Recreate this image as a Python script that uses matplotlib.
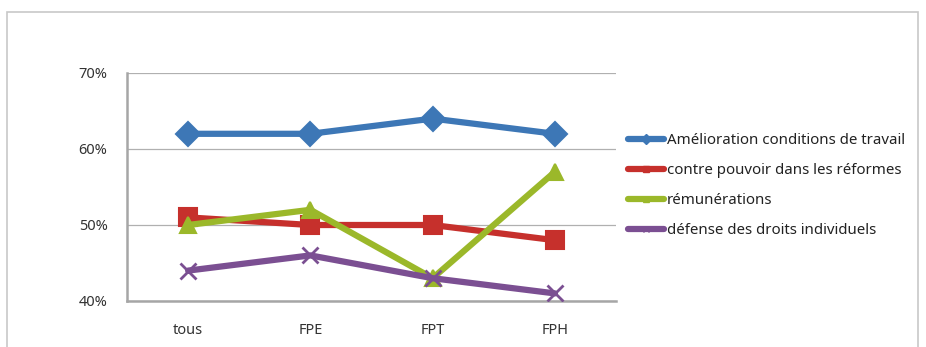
import matplotlib
matplotlib.use("Agg")
import matplotlib.pyplot as plt
from matplotlib.patches import Rectangle
from matplotlib.lines import Line2D

categories = ["tous", "FPE", "FPT", "FPH"]
amelioration = [62, 62, 64, 62]
contre_pouvoir = [51, 50, 50, 48]
remunerations = [50, 52, 43, 57]
defense = [44, 46, 43, 41]
labels = ["Amélioration conditions de travail", "contre pouvoir dans les réformes",
          "rémunérations", "défense des droits individuels"]
yticks = [40, 50, 60, 70]

plt.rcParams['font.family'] = ['Noto Sans', 'DejaVu Sans']

fig = plt.figure(figsize=(9.26, 3.47), dpi=100)
fig.patch.set_facecolor("white")
fig.patches.append(Rectangle((7/926, -0.1), 911/926, 1.1 - 12/347, transform=fig.transFigure,
                             fill=False, edgecolor="#c8c8c8", linewidth=1.2))

ax = fig.add_axes([127/926, 1 - 301/347, 489/926, 228/347])
x = range(len(categories))
series = [
    (amelioration, "#3d77b6", "D", 12),
    (contre_pouvoir, "#c6302c", "s", 13),
    (remunerations, "#9bb82a", "^", 12),
    (defense, "#7b4f92", "x", 12),
]
handles = []
for (vals, col, mk, ms), lab in zip(series, labels):
    ax.plot(x, vals, color=col, linewidth=4.5, marker=mk, markersize=ms,
            markeredgewidth=1.5 if mk != "x" else 2, markerfacecolor=col,
            markeredgecolor=col, solid_capstyle="round", zorder=3)
    handles.append(Line2D([], [], color=col, linewidth=4.5, marker=mk, markersize=5,
                          markerfacecolor=col, markeredgecolor=col, solid_capstyle="round"))

ax.set_xlim(-0.5, 3.5)
ax.set_ylim(40, 70)
ax.set_yticks(yticks)
ax.set_yticklabels([f"{v}%" for v in yticks])
ax.set_xticks(list(x))
ax.set_xticklabels(categories)
ax.tick_params(axis="both", length=0, labelsize=10.5, colors="#333333")
ax.tick_params(axis="x", pad=16)
ax.tick_params(axis="y", pad=14)
ax.grid(axis="y", color="#b0b0b0", linewidth=0.9)
ax.set_axisbelow(True)
for s in ["top", "right"]:
    ax.spines[s].set_visible(False)
for s in ["left", "bottom"]:
    ax.spines[s].set_color("#a6a6a6")
    ax.spines[s].set_linewidth(1.8)

fig.legend(handles, labels, loc="upper left", bbox_to_anchor=(622/926, 1 - 127/347),
           frameon=False, fontsize=10.8, handlelength=2.4, handletextpad=0.2,
           labelspacing=1.0, borderaxespad=0, labelcolor="#222222")

fig.savefig("out.png", dpi=100)
